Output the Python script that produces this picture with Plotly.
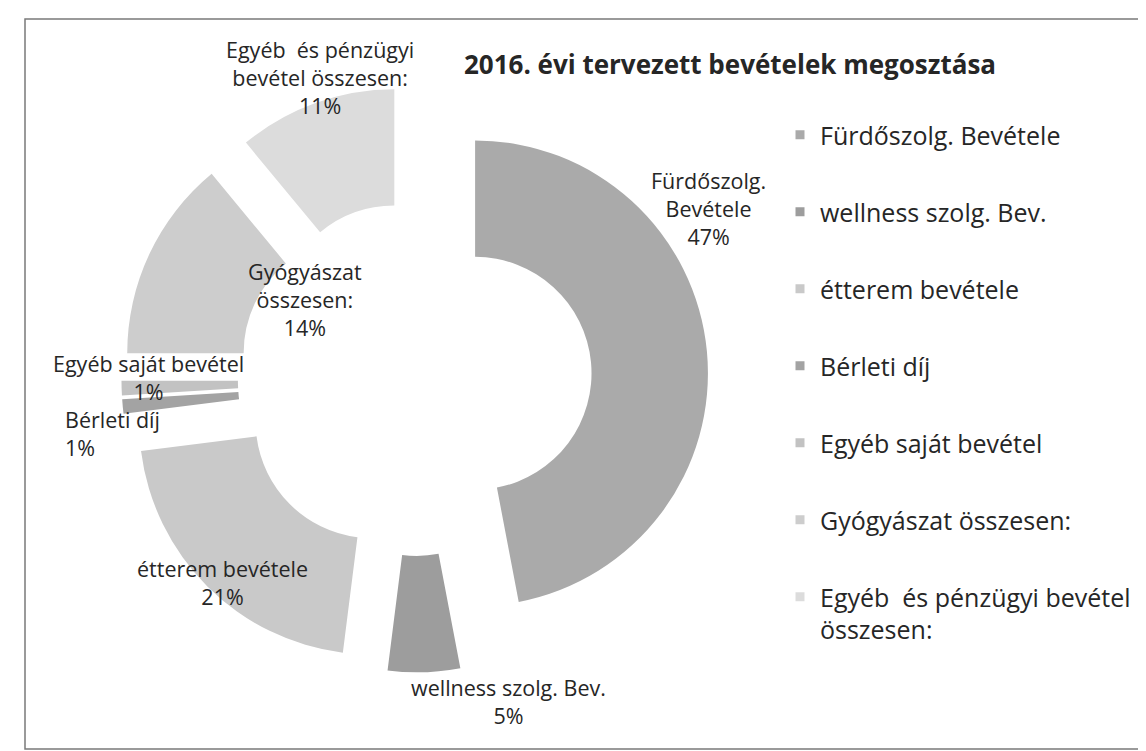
import plotly.graph_objects as go

# ---- data ----
categories = [
    "Fürdőszolg. Bevétele",
    "wellness szolg. Bev.",
    "étterem bevétele",
    "Bérleti díj",
    "Egyéb saját bevétel",
    "Gyógyászat összesen:",
    "Egyéb  és pénzügyi bevétel összesen:",
]
shares = [47, 5, 21, 1, 1, 14, 11]
colors = ["#aaaaaa", "#9d9d9d", "#c9c9c9", "#a3a3a3", "#c2c2c2", "#cdcdcd", "#dcdcdc"]

# label text as shown on chart (with line breaks)
chart_labels = [
    "Fürdőszolg.<br>Bevétele",
    "wellness szolg. Bev.",
    "étterem bevétele",
    "Bérleti díj",
    "Egyéb saját bevétel",
    "Gyógyászat<br>összesen:",
    "Egyéb  és pénzügyi<br>bevétel összesen:",
]
legend_labels = [
    "Fürdőszolg. Bevétele",
    "wellness szolg. Bev.",
    "étterem bevétele",
    "Bérleti díj",
    "Egyéb saját bevétel",
    "Gyógyászat összesen:",
    "Egyéb  és pénzügyi bevétel<br>összesen:",
]

W, H = 1146, 751
FONT = "Open Sans"
TXT = "#262626"

fig = go.Figure()

fig.add_trace(go.Pie(
    labels=categories,
    values=shares,
    sort=False,
    direction="clockwise",
    rotation=0,
    hole=0.5,
    pull=[0.26] * len(shares),
    marker=dict(colors=colors, line=dict(width=0)),
    textinfo="none",
    hoverinfo="label+percent",
    showlegend=False,
    domain=dict(x=[0.099, 0.611], y=[0.1153, 0.8968]),
))

# legend entries (legend-only dummy traces)
for i, (lab, col) in enumerate(zip(legend_labels, colors)):
    fig.add_trace(go.Scatter(
        x=[None], y=[None], mode="markers", name=lab,
        marker=dict(symbol="square", size=9, color=col),
        legendgroup=str(i), showlegend=True, hoverinfo="skip",
    ))

# data labels (position in pixel space -> paper)
label_pos = [
    (700, 200, "center"),
    (500, 693, "center"),
    (214, 574, "center"),
    (55, 425, "left"),
    (140, 370, "center"),
    (297, 291, "center"),
    (312, 69, "center"),
]
annotations = []
for lab, val, (px, py, al) in zip(chart_labels, shares, label_pos):
    annotations.append(dict(
        x=px / W, y=1 - py / H, xref="paper", yref="paper",
        text=f"{lab}<br>{val}%", showarrow=False, align=al,
        xanchor="left" if al == "left" else "center", yanchor="middle",
        font=dict(family=FONT, size=21.5, color=TXT),
    ))

fig.update_layout(
    width=W, height=H,
    margin=dict(l=0, r=0, t=0, b=0),
    paper_bgcolor="white", plot_bgcolor="white",
    title=dict(text="<b>2016. évi tervezett bevételek megosztása</b>",
               x=722 / W, xanchor="center", y=1 - 57 / H, yanchor="middle",
               font=dict(family=FONT, size=26, color=TXT)),
    xaxis=dict(visible=False), yaxis=dict(visible=False),
    legend=dict(x=772 / W, xanchor="left", y=1 - 104 / H, yanchor="top",
                font=dict(family=FONT, size=25, color=TXT),
                tracegroupgap=41.5, valign="top", bgcolor="rgba(0,0,0,0)"),
    annotations=annotations,
    shapes=[dict(type="rect", xref="paper", yref="paper",
                 x0=17 / W, x1=1138 / W, y0=1 - 741 / H, y1=1 - 11 / H,
                 line=dict(color="#7a7a7a", width=1.5))],
)

fig.write_html("out.html")
